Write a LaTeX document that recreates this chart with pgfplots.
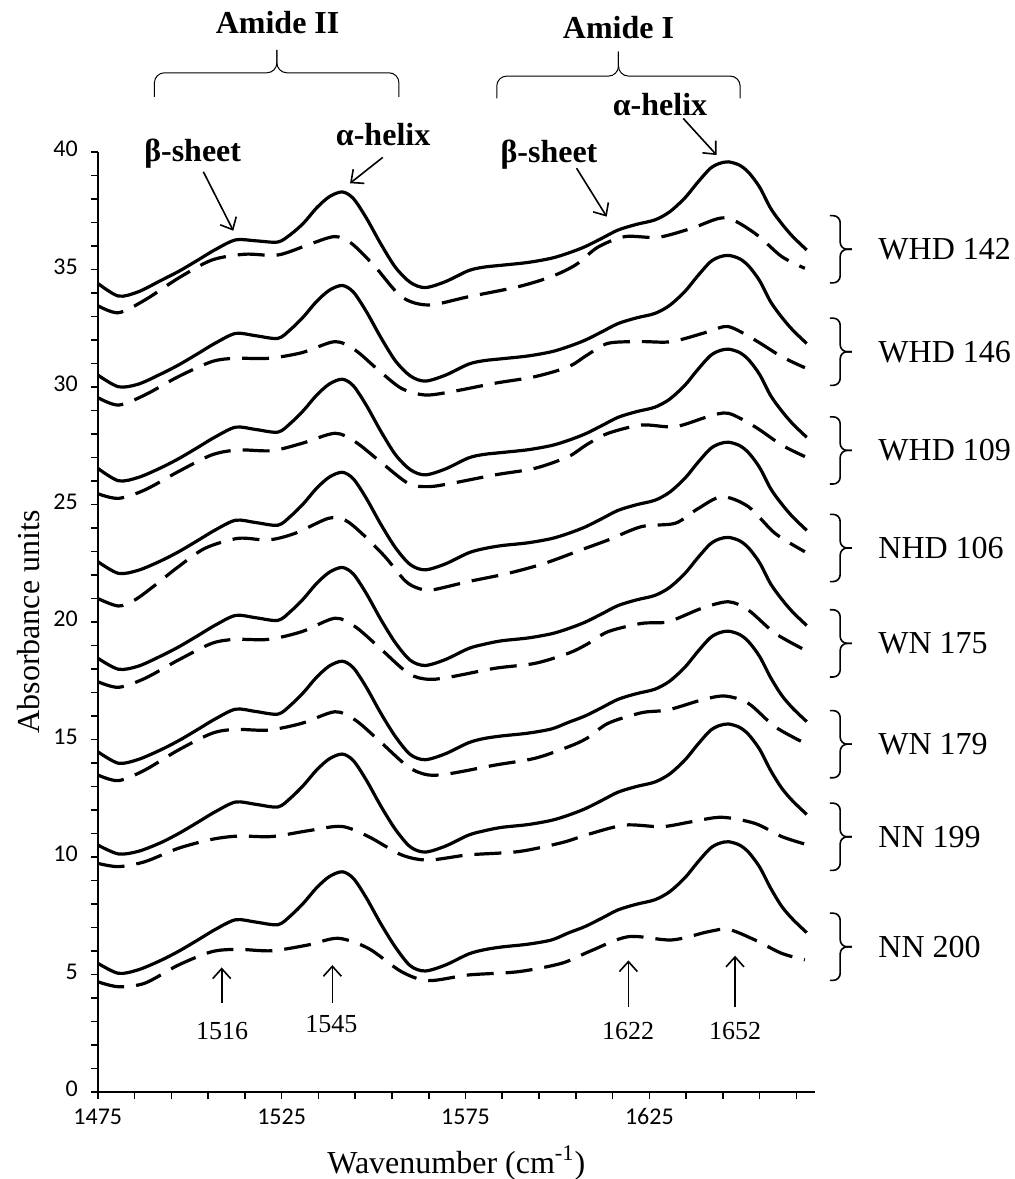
\documentclass[border=0pt]{standalone}
\usepackage{fontspec}
\setmainfont{Liberation Serif}
\newfontfamily\calibri{Carlito}
\usepackage{pgfplots}
\usepackage{pgfplotstable}
\pgfplotsset{compat=1.18}
\usetikzlibrary{arrows.meta}

\pgfplotstableread{
x       s1     s2     s3     s4     s5     s6     s7     s8
1475.0  34.41  30.51  26.54  22.57  18.46  14.48  10.51  5.48
1480.6  33.87  30.01  26.01  22.07  17.99  13.99  10.13  5.05
1486.0  34.05  30.12  26.15  22.20  18.12  14.15  10.24  5.20
1492.0  34.52  30.54  26.55  22.59  18.54  14.55  10.60  5.59
1497.0  34.92  30.94  26.95  22.99  18.94  14.95  11.00  5.99
1502.0  35.38  31.40  27.41  23.45  19.40  15.41  11.46  6.45
1507.0  35.85  31.87  27.88  23.92  19.87  15.88  11.93  6.92
1512.5  36.26  32.28  28.29  24.33  20.28  16.29  12.34  7.33
1518.0  36.22  32.18  28.19  24.23  20.18  16.19  12.24  7.23
1524.0  36.17  32.07  28.08  24.12  20.07  16.08  12.13  7.12
1527.5  36.50  32.46  28.47  24.51  20.46  16.47  12.52  7.51
1531.0  36.98  33.00  29.01  25.05  21.00  17.01  13.06  8.05
1534.5  37.62  33.64  29.65  25.69  21.64  17.65  13.70  8.69
1538.0  38.10  34.12  30.13  26.17  22.12  18.13  14.18  9.17
1541.5  38.30  34.32  30.33  26.37  22.32  18.33  14.38  9.37
1544.5  38.02  34.04  30.05  26.09  22.04  18.05  14.10  9.09
1548.0  37.20  33.22  29.23  25.27  21.22  17.23  13.28  8.27
1552.0  36.08  32.10  28.11  24.15  20.10  16.11  12.16  7.15
1556.0  35.08  31.10  27.11  23.15  19.10  15.11  11.16  6.15
1560.0  34.45  30.47  26.48  22.44  18.37  14.36  10.43  5.37
1564.0  34.23  30.25  26.26  22.22  18.15  14.14  10.21  5.15
1569.5  34.48  30.50  26.51  22.47  18.40  14.39  10.46  5.40
1575.8  34.95  30.97  26.98  22.94  18.87  14.86  10.93  5.87
1580.0  35.10  31.12  27.13  23.12  19.05  15.04  11.11  6.05
1584.8  35.18  31.20  27.21  23.25  19.20  15.15  11.26  6.17
1592.0  35.30  31.32  27.33  23.37  19.32  15.27  11.38  6.29
1598.4  35.48  31.50  27.51  23.55  19.50  15.45  11.56  6.47
1603.0  35.70  31.72  27.73  23.77  19.72  15.73  11.78  6.77
1607.5  35.97  31.99  28.00  24.04  19.99  16.00  12.05  7.04
1612.0  36.32  32.34  28.35  24.39  20.34  16.35  12.40  7.39
1616.5  36.68  32.70  28.71  24.75  20.70  16.71  12.76  7.75
1621.5  36.92  32.94  28.95  24.99  20.94  16.95  13.00  7.99
1626.5  37.11  33.13  29.14  25.18  21.13  17.14  13.19  8.18
1630.5  37.45  33.47  29.48  25.52  21.47  17.48  13.53  8.52
1634.7  38.05  34.07  30.08  26.12  22.07  18.08  14.13  9.12
1638.0  38.68  34.70  30.71  26.75  22.70  18.71  14.76  9.75
1641.5  39.29  35.31  31.32  27.36  23.31  19.32  15.37  10.36
1644.0  39.51  35.53  31.54  27.58  23.53  19.54  15.59  10.58
1646.5  39.58  35.60  31.61  27.65  23.60  19.61  15.66  10.65
1649.5  39.44  35.46  31.47  27.51  23.46  19.47  15.52  10.51
1652.0  39.13  35.15  31.16  27.20  23.15  19.16  15.21  10.20
1655.0  38.50  34.52  30.53  26.57  22.52  18.53  14.58  9.57
1658.0  37.60  33.62  29.63  25.67  21.62  17.63  13.68  8.67
1661.0  36.95  32.97  28.98  25.02  20.97  16.88  12.93  7.90
1664.0  36.40  32.42  28.43  24.47  20.42  16.33  12.38  7.35
1667.8  35.83  31.85  27.86  23.90  19.85  15.76  11.81  6.78
}\solid

\newcommand{\topbrace}[6]{%
  \draw[line width=0.5pt, rounded corners=5pt] (axis cs:#1,#4) -- (axis cs:#1,#5) -- (axis cs:#3,#5) -- (axis cs:#3,#6);
  \draw[line width=0.5pt, rounded corners=5pt] (axis cs:#2,#4) -- (axis cs:#2,#5) -- (axis cs:#3,#5) -- (axis cs:#3,#6);
}
\newcommand{\sidebrace}[2]{%
  \draw[line width=0.8pt, rounded corners=3.5pt] (axis cs:1674.1,#1+1.43) -- (axis cs:1676.9,#1+1.43) -- (axis cs:1676.9,#1) -- (axis cs:1680.1,#1);
  \draw[line width=0.8pt, rounded corners=3.5pt] (axis cs:1674.1,#1-1.43) -- (axis cs:1676.9,#1-1.43) -- (axis cs:1676.9,#1) -- (axis cs:1680.1,#1);
  \node[anchor=west, inner sep=0pt, font=\fontsize{16}{16}\selectfont] at (axis cs:1687.2,#1) {#2};
}

\begin{document}
\begin{tikzpicture}
\begin{axis}[
  scale only axis, width=358.5pt, height=470pt,
  xmin=1475, xmax=1670, ymin=0, ymax=40,
  axis lines=left, axis line style={-, line width=1pt},
  xtick={1475,1525,1575,1625}, minor xtick={1485,1495,...,1665},
  ytick={0,5,...,40}, minor ytick={1,...,39},
  tick align=outside, major tick length=3.5pt, minor tick length=3.5pt,
  every tick/.style={black, line width=0.8pt},
  every minor tick/.style={black, line width=0.8pt},
  /pgf/number format/assume math mode=true,
  /pgf/number format/1000 sep={},
  typeset ticklabels with strut,
  ticklabel style={font=\calibri\fontsize{12}{12}\selectfont},
  yticklabel style={xshift=-3pt},
  xticklabel style={yshift=-1pt},
  xlabel={Wavenumber (cm\textsuperscript{-1})},
  ylabel={Absorbance units},
  label style={font=\fontsize{16}{16}\selectfont},
  clip=false,
]
\foreach \c in {s1,s2,s3,s4,s5,s6,s7,s8}{
  \addplot[black, line width=1.6pt, smooth] table[x=x, y=\c] {\solid};
}
\pgfplotsset{dsh/.style={black, line width=1.6pt, smooth, dash pattern=on 13.5pt off 6pt}}
\addplot[dsh] coordinates {(1475,33.46) (1480.6,33.16) (1487.8,33.70) (1496.9,34.63) (1506,35.40) (1515,35.65) (1524.1,35.62) (1533.2,36.11) (1539.5,36.40) (1544,36.11) (1550.4,35.12) (1557.6,33.84) (1564.9,33.49) (1575.8,33.84) (1589.4,34.27) (1598.4,34.70) (1605,35.20) (1611,35.95) (1618.4,36.40) (1627.4,36.37) (1636.5,36.75) (1645.6,37.20) (1653.7,36.54) (1661,35.55) (1667.3,35.05)};
\addplot[dsh] coordinates {(1475,29.55) (1480.6,29.23) (1487.8,29.66) (1496.9,30.44) (1506,31.08) (1512.3,31.22) (1521.4,31.22) (1530.5,31.46) (1539.5,31.93) (1545,31.57) (1551.3,30.72) (1557.6,29.94) (1564,29.66) (1571.2,29.80) (1583,30.16) (1593.9,30.44) (1603,30.86) (1608,31.35) (1613.8,31.86) (1622.9,31.93) (1631.1,31.93) (1641,32.35) (1646.5,32.57) (1653.7,32.0) (1661,31.29) (1667.3,30.82)};
\addplot[dsh] coordinates {(1475,25.46) (1480.6,25.26) (1487.8,25.62) (1496.9,26.40) (1506,27.11) (1513.2,27.32) (1522.3,27.29) (1530.5,27.60) (1539.5,28.03) (1545,27.67) (1551.3,26.89) (1559.4,25.90) (1564.9,25.76) (1571.2,25.90) (1583,26.26) (1593.9,26.54) (1603,27.04) (1608,27.55) (1613.8,28.03) (1622.9,28.38) (1632,28.31) (1641,28.74) (1646.5,28.88) (1653.7,28.31) (1661,27.53) (1667.3,27.04)};
\addplot[dsh] coordinates {(1475,21.0) (1480.6,20.68) (1485.1,20.94) (1490.6,21.57) (1496.9,22.35) (1504.2,23.14) (1513.2,23.56) (1521.4,23.49) (1528.6,23.77) (1537.7,24.41) (1542.2,24.34) (1546.8,23.77) (1553.1,22.78) (1558.6,21.75) (1562.2,21.43) (1565.8,21.36) (1575.8,21.72) (1586.6,22.07) (1596.6,22.5) (1607,23.1) (1613.8,23.49) (1622.9,24.06) (1632,24.2) (1638,24.8) (1644.7,25.33) (1651.9,24.91) (1659.2,23.77) (1667.3,22.99)};
\addplot[dsh] coordinates {(1475,17.46) (1480.6,17.22) (1487.8,17.6) (1496.9,18.38) (1506,19.09) (1512.3,19.26) (1521.4,19.26) (1530.5,19.59) (1539.5,20.16) (1545,19.80) (1551.3,18.95) (1559.4,17.82) (1564.9,17.56) (1571.2,17.67) (1583,18.03) (1593.9,18.24) (1603,18.67) (1608,19.05) (1613.8,19.59) (1622.9,19.94) (1630.1,20.01) (1639.2,20.58) (1646.5,20.86) (1651.9,20.51) (1659.2,19.52) (1667.3,18.81)};
\addplot[dsh] coordinates {(1475,13.49) (1480.6,13.25) (1487.8,13.70) (1496.9,14.55) (1506,15.26) (1512.3,15.43) (1521.4,15.40) (1530.5,15.69) (1539.5,16.18) (1545,15.83) (1551.3,14.98) (1559.4,13.84) (1564.9,13.49) (1571.2,13.56) (1583,13.91) (1593.9,14.2) (1603,14.69) (1608,15.05) (1613.8,15.69) (1622.9,16.14) (1630.1,16.26) (1639.2,16.68) (1645.5,16.85) (1651.9,16.54) (1659.2,15.54) (1667.3,14.84)};
\addplot[dsh] coordinates {(1475,9.73) (1480.6,9.59) (1487.8,9.80) (1496.9,10.37) (1506,10.75) (1513.2,10.89) (1522.3,10.87) (1532.3,11.12) (1541.3,11.30) (1548.6,10.87) (1557.6,10.09) (1564.9,9.87) (1575.8,10.09) (1589.4,10.23) (1601.2,10.61) (1608.5,10.97) (1618.4,11.36) (1628.4,11.29) (1636.5,11.50) (1644.7,11.69) (1653.7,11.43) (1661,10.87) (1667.3,10.55)};
\addplot[dsh] coordinates {(1475,4.69) (1480.6,4.48) (1487.8,4.63) (1496.9,5.40) (1506,5.97) (1513.2,6.07) (1522.3,6.01) (1532.3,6.26) (1540.4,6.54) (1548.6,6.11) (1557.6,5.12) (1564.9,4.74) (1575.8,4.98) (1589.4,5.12) (1601.2,5.48) (1609,6.0) (1619.3,6.61) (1631.1,6.47) (1641,6.82) (1646.5,6.92) (1653.7,6.47) (1661,5.90) (1667.3,5.62)};

% top braces and titles
\topbrace{1490.4}{1556.9}{1523.7}{42.35}{43.37}{44.34}
\topbrace{1583.5}{1649.7}{1616.6}{42.28}{43.23}{44.27}
\node[anchor=base, font=\bfseries\fontsize{16}{16}\selectfont] at (axis cs:1523.9,45.06) {Amide II};
\node[anchor=base, font=\bfseries\fontsize{16}{16}\selectfont] at (axis cs:1616.6,44.84) {Amide I};

% peak annotations
\node[anchor=base, font=\bfseries\fontsize{16}{16}\selectfont] at (axis cs:1500.8,39.59) {β-sheet};
\node[anchor=base, font=\bfseries\fontsize{16}{16}\selectfont] at (axis cs:1552.6,40.27) {α-helix};
\node[anchor=base, font=\bfseries\fontsize{16}{16}\selectfont] at (axis cs:1597.7,39.54) {β-sheet};
\node[anchor=base, font=\bfseries\fontsize{16}{16}\selectfont] at (axis cs:1627.9,41.57) {α-helix};
\tikzset{ann/.style={line width=0.8pt, -{Straight Barb[length=5pt,width=9pt]}}}
\draw[ann] (axis cs:1503.7,39.16) -- (axis cs:1511.85,36.65);
\draw[ann] (axis cs:1552.5,39.77) -- (axis cs:1543.6,38.67);
\draw[ann] (axis cs:1605.2,39.31) -- (axis cs:1613.4,37.25);
\draw[ann] (axis cs:1634.2,41.43) -- (axis cs:1643.3,39.87);

% bottom arrows
\draw[ann] (axis cs:1508.7,3.8) -- (axis cs:1508.7,5.3);
\draw[ann] (axis cs:1538.8,3.8) -- (axis cs:1538.8,5.4);
\draw[ann] (axis cs:1619.3,3.6) -- (axis cs:1619.3,5.6);
\draw[ann] (axis cs:1648.3,3.6) -- (axis cs:1648.3,5.8);
\node[font=\fontsize{13}{13}\selectfont] at (axis cs:1508.8,2.6) {1516};
\node[font=\fontsize{13}{13}\selectfont] at (axis cs:1538.5,2.9) {1545};
\node[font=\fontsize{13}{13}\selectfont] at (axis cs:1619.2,2.6) {1622};
\node[font=\fontsize{13}{13}\selectfont] at (axis cs:1648.3,2.6) {1652};

% sample braces
\sidebrace{35.86}{WHD 142}
\sidebrace{31.5}{WHD 146}
\sidebrace{27.3}{WHD 109}
\sidebrace{23.15}{NHD 106}
\sidebrace{19.09}{WN 175}
\sidebrace{14.80}{WN 179}
\sidebrace{10.86}{NN 199}
\sidebrace{6.18}{NN 200}
\end{axis}
\pgfresetboundingbox
\path[use as bounding box] ([xshift=-48.9pt,yshift=-43.5pt]current axis.south west) rectangle ([xshift=100pt,yshift=76pt]current axis.north east);
\end{tikzpicture}
\end{document}
